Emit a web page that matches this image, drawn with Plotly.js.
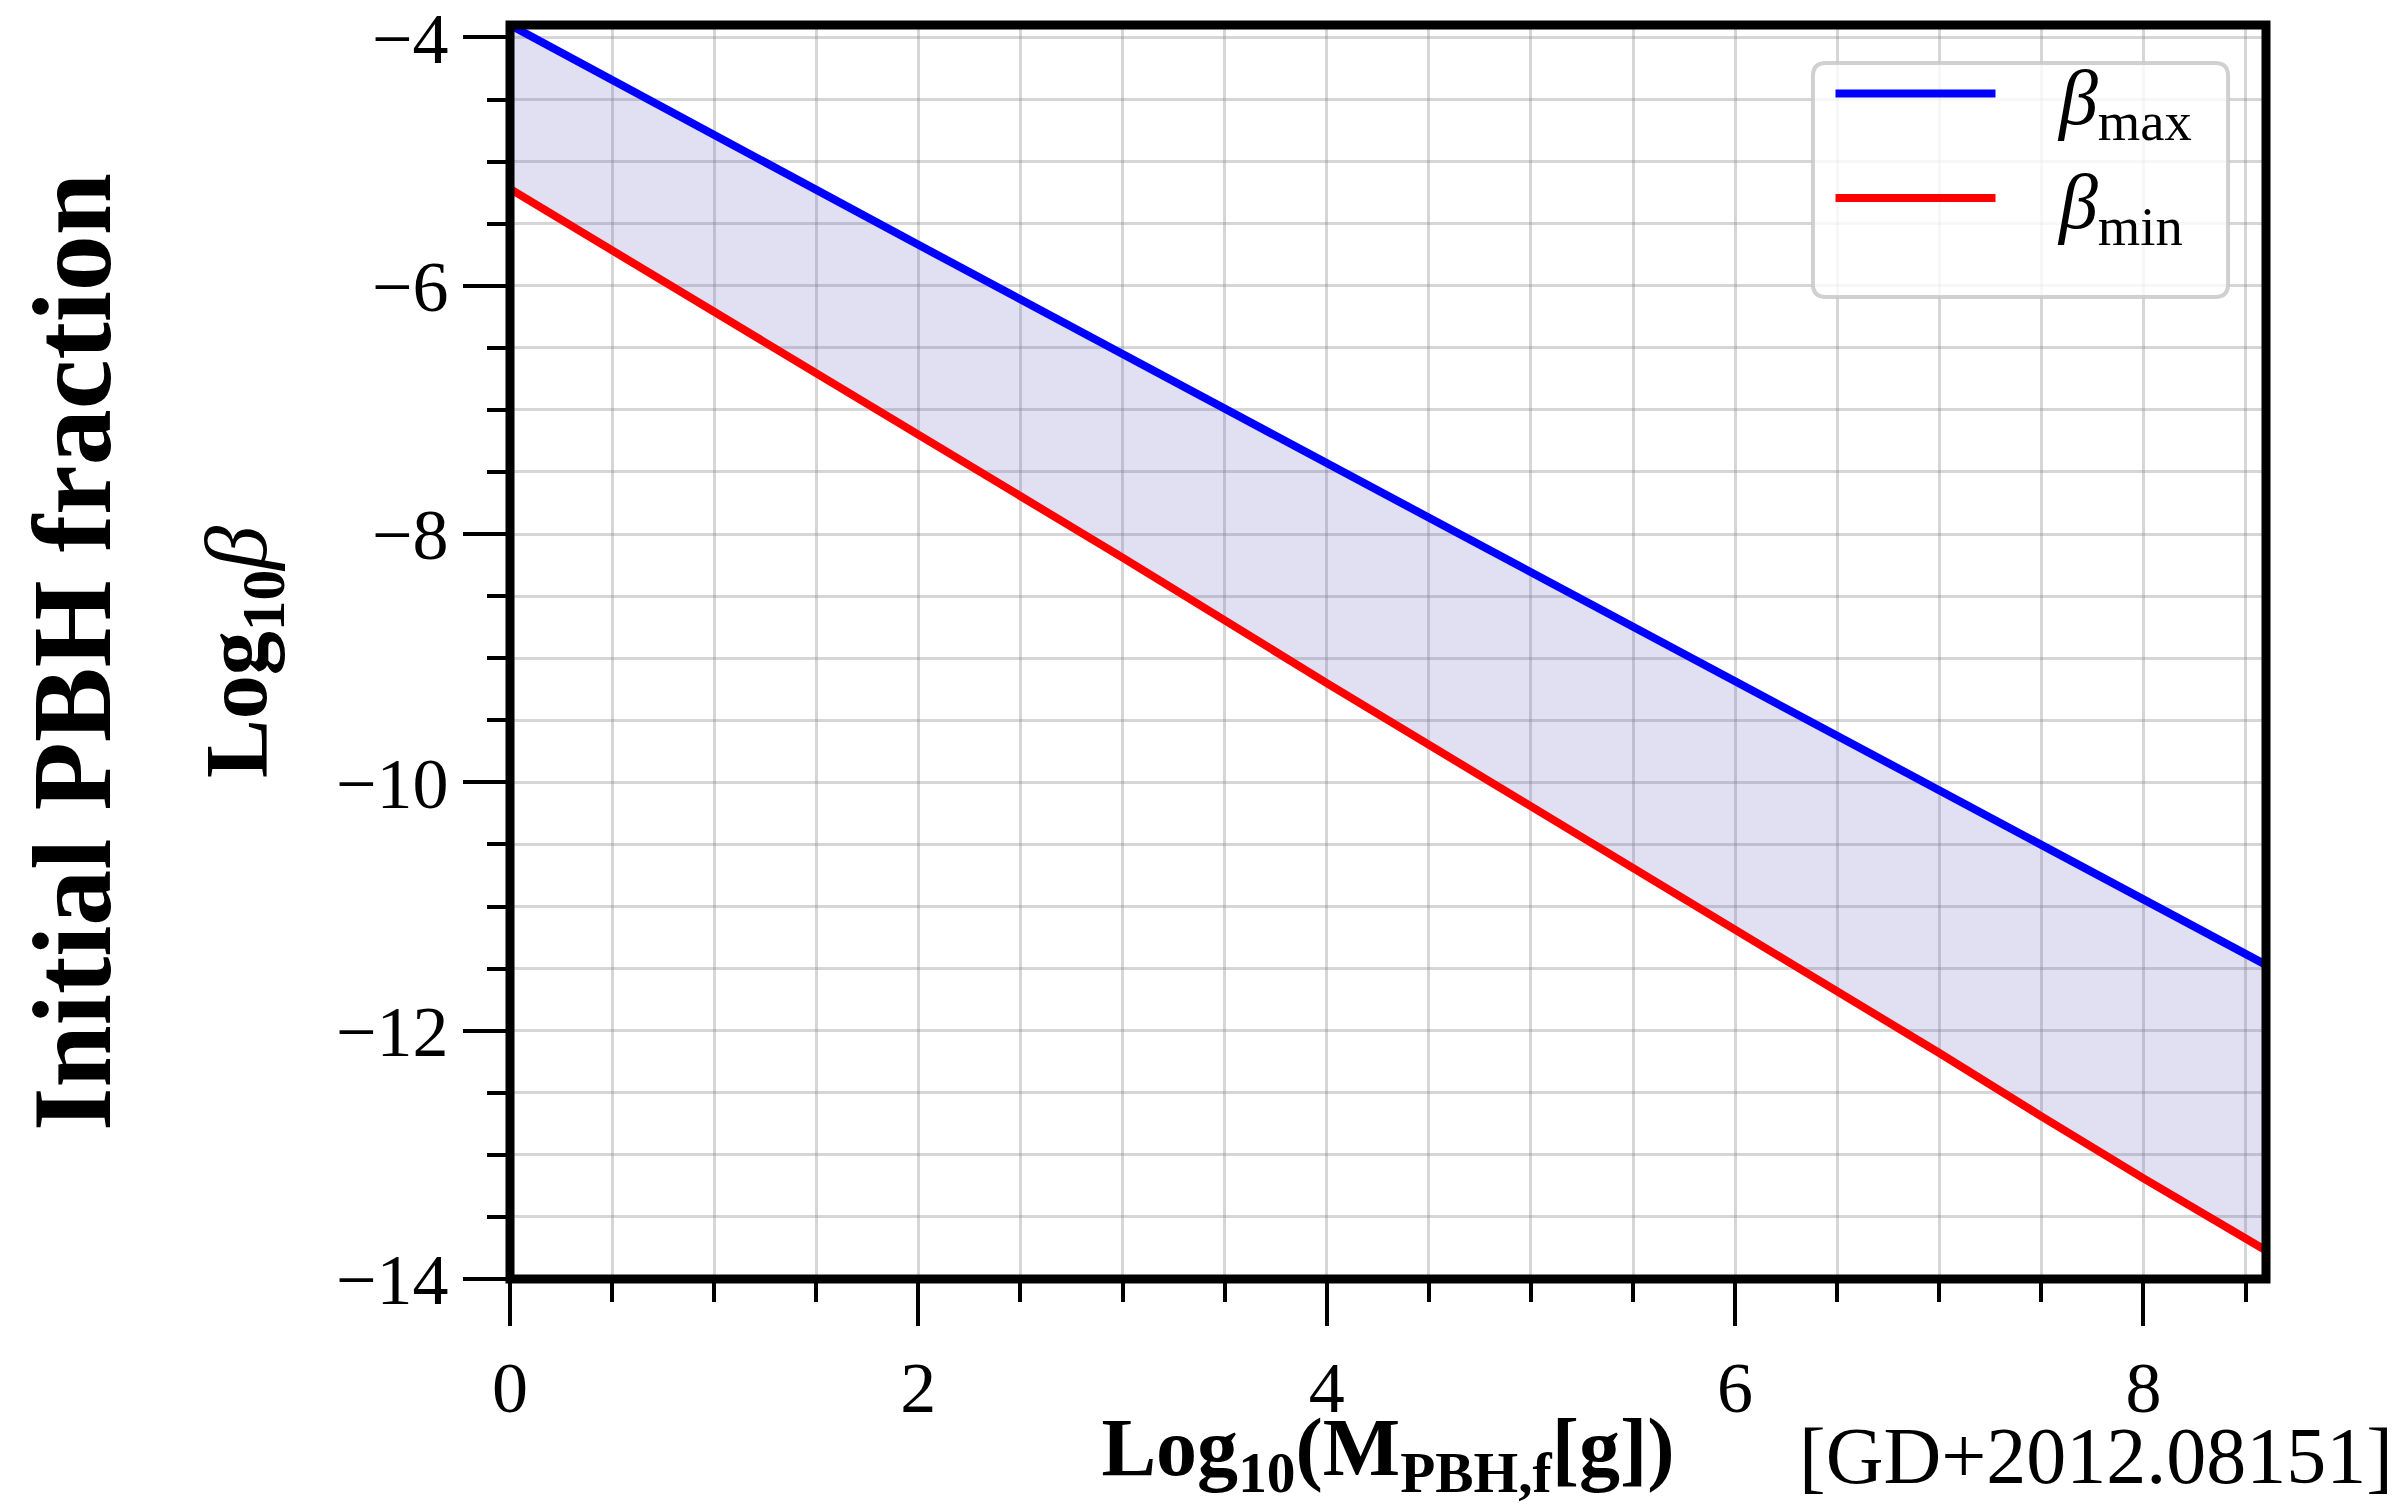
<!DOCTYPE html>
<html>
<head>
<meta charset="utf-8">
<script src="https://cdn.plot.ly/plotly-3.0.1.min.js"></script>
<style>html,body{margin:0;padding:0;background:#fff;}#chart{width:2407px;height:1504px;}</style>
</head>
<body>
<div id="chart"></div>
<script>
// Log10 of final PBH mass [g]
var logMass = [0, 1, 2, 3, 4, 5, 6, 6.5, 7, 7.5, 7.7, 8, 8.6];
// Log10 beta_max (blue) and beta_min (red)
var betaMax = [-3.90, -4.79, -5.67, -6.55, -7.43, -8.31, -9.19, -9.63, -10.07, -10.52, -10.69, -10.96, -11.47];
var betaMin = [-5.22, -6.21, -7.20, -8.19, -9.20, -10.19, -11.18, -11.68, -12.18, -12.69, -12.89, -13.19, -13.77];
var NBSP = '\u00a0\u00a0\u00a0';
var legendNames = [NBSP + '<i>β</i><sub>max</sub>', NBSP + '<i>β</i><sub>min</sub>'];
var xTitle = '<b>Log<sub>10</sub>(M<sub>PBH,f</sub>[g])</b>';
var yTitle = '<b>Log<sub>10</sub></b><i>β</i>';
var sideTitle = '<b>Initial PBH fraction</b>';
var refNote = '[GD+2012.08151]';

var FONT = 'Liberation Serif, Times New Roman, serif';

var traces = [
  {x: logMass, y: betaMax, mode: 'lines', line: {width: 0, color: 'rgba(0,0,0,0)'}, showlegend: false, hoverinfo: 'skip'},
  {x: logMass, y: betaMin, mode: 'lines', line: {width: 0, color: 'rgba(0,0,0,0)'}, fill: 'tonexty', fillcolor: 'rgba(105,95,190,0.2)', showlegend: false, hoverinfo: 'skip'},
  {x: logMass, y: betaMax, mode: 'lines', name: legendNames[0], legendgroup: 'a', line: {color: '#0000ff', width: 8}},
  {x: logMass, y: betaMin, mode: 'lines', name: legendNames[1], legendgroup: 'b', line: {color: '#ff0000', width: 8}}
];

var gridC = 'rgba(128,128,128,0.32)';
function axisCommon() {
  return {
    showline: false, zeroline: false, mirror: false,
    showgrid: true, gridcolor: gridC, gridwidth: 3,
    ticks: 'outside', ticklen: 46, tickwidth: 4, tickcolor: '#000',
    ticklabeloverflow: 'allow',
    tickfont: {family: FONT, size: 72, color: '#000'},
    minor: {dtick: 0.5, ticks: 'outside', ticklen: 22, tickwidth: 4, tickcolor: '#000', showgrid: true, gridcolor: gridC, gridwidth: 3}
  };
}
var xa = axisCommon();
Object.assign(xa, {range: [0, 8.6], tick0: 0, dtick: 2,
  title: {text: xTitle, font: {family: FONT, size: 82, color: '#000'}, standoff: 28}});
var ya = axisCommon();
Object.assign(ya, {range: [-14, -3.9], tick0: 0, dtick: 2,
  title: {text: yTitle, font: {family: FONT, size: 88, color: '#000'}, standoff: 40}});

// legend frame geometry (paper units)
var bx0 = 0.742, bx1 = 0.9784, by0 = 0.7831, by1 = 0.9697, rx = 0.0074, ry = 0.0104;
var boxPath = 'M' + (bx0 + rx) + ',' + by1 + ' L' + (bx1 - rx) + ',' + by1 +
  ' Q' + bx1 + ',' + by1 + ' ' + bx1 + ',' + (by1 - ry) +
  ' L' + bx1 + ',' + (by0 + ry) + ' Q' + bx1 + ',' + by0 + ' ' + (bx1 - rx) + ',' + by0 +
  ' L' + (bx0 + rx) + ',' + by0 + ' Q' + bx0 + ',' + by0 + ' ' + bx0 + ',' + (by0 + ry) +
  ' L' + bx0 + ',' + (by1 - ry) + ' Q' + bx0 + ',' + by1 + ' ' + (bx0 + rx) + ',' + by1 + ' Z';

var layout = {
  width: 2407, height: 1504,
  margin: {l: 510, r: 141, t: 25, b: 225},
  paper_bgcolor: '#fff', plot_bgcolor: '#fff',
  font: {family: FONT, color: '#000'},
  xaxis: xa, yaxis: ya,
  showlegend: true,
  legend: {x: 0.752, y: 0.991, xanchor: 'left', yanchor: 'top', bgcolor: 'rgba(0,0,0,0)', borderwidth: 0,
    traceorder: 'normal', font: {family: FONT, size: 78, color: '#000'}, itemwidth: 160, tracegroupgap: 4},
  shapes: [
    {type: 'path', xref: 'paper', yref: 'paper', path: boxPath, fillcolor: 'rgba(255,255,255,0.8)', line: {color: 'rgba(200,200,200,0.85)', width: 4}, layer: 'above'},
    {type: 'rect', xref: 'paper', yref: 'paper', x0: 0, x1: 1, y0: 0, y1: 1, line: {color: '#000', width: 9}, fillcolor: 'rgba(0,0,0,0)', layer: 'above'}
  ],
  annotations: [
    {text: sideTitle, xref: 'paper', yref: 'paper', x: -0.2494, y: 0.5, xanchor: 'center', yanchor: 'middle', textangle: -90, showarrow: false,
      font: {family: FONT, size: 112, color: '#000'}},
    {text: refNote, xref: 'paper', yref: 'paper', x: 1.0735, y: -0.1775, xanchor: 'right', yanchor: 'bottom', showarrow: false,
      font: {family: FONT, size: 80, color: '#000'}}
  ]
};

Plotly.newPlot('chart', traces, layout, {staticPlot: true, displayModeBar: false});
</script>
</body>
</html>
